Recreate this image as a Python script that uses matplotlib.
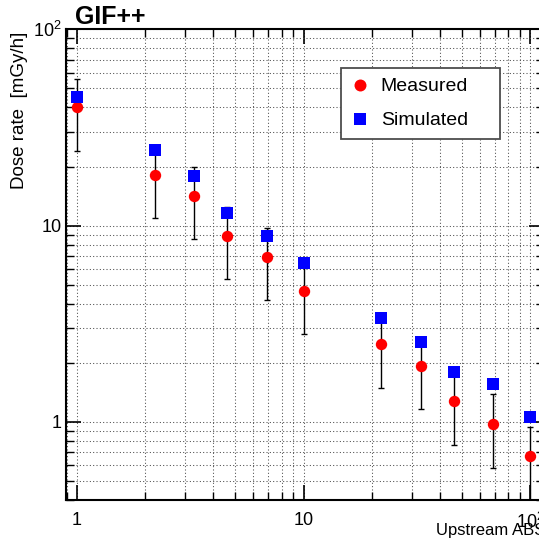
import matplotlib
matplotlib.use("Agg")
import matplotlib.pyplot as plt
from matplotlib.ticker import LogLocator, FuncFormatter, NullFormatter

plt.rcParams['font.family'] = ['Liberation Sans', 'DejaVu Sans']
plt.rcParams['mathtext.fontset'] = 'custom'
plt.rcParams['mathtext.rm'] = 'Liberation Sans'
plt.rcParams['mathtext.it'] = 'Liberation Sans:italic'
plt.rcParams['mathtext.bf'] = 'Liberation Sans:bold'

# Upstream ABS attenuation factors and dose rates [mGy/h]
abs_factor = [1, 2.2, 3.3, 4.6, 6.9, 10, 22, 33, 46, 69, 100]
measured = [40, 18.2, 14.2, 8.9, 6.95, 4.67, 2.48, 1.93, 1.28, 0.98, 0.67]
measured_err = [16, 7.3, 5.7, 3.55, 2.78, 1.87, 1.0, 0.77, 0.52, 0.40, 0.27]
simulated = [45, 24.2, 17.8, 11.6, 8.8, 6.48, 3.4, 2.54, 1.79, 1.56, 1.06]

W, H = 539, 542
fig = plt.figure(figsize=(W / 100, H / 100), dpi=100)

ax_l, ax_r, ax_t, ax_b = 66, 544, 29.3, 500
ax = fig.add_axes([ax_l / W, 1 - ax_b / H, (ax_r - ax_l) / W, (ax_b - ax_t) / H])
ax.set_xscale('log')
ax.set_yscale('log')
ax.set_xlim(0.894, 115.3)
ax.set_ylim(0.4, 100)

# dotted grid at every major and minor decade subdivision
ax.xaxis.set_major_locator(LogLocator(base=10, numticks=10))
ax.xaxis.set_minor_locator(LogLocator(base=10, subs=range(2, 10), numticks=20))
ax.yaxis.set_major_locator(LogLocator(base=10, numticks=10))
ax.yaxis.set_minor_locator(LogLocator(base=10, subs=range(2, 10), numticks=20))
for which in ('major', 'minor'):
    ax.grid(True, which=which, linestyle=(0, (1, 2.2)), linewidth=0.75, color='0.3')


def fmt(v, pos):
    if abs(v - 100) < 1e-6:
        return r'$10^{2}$'
    if abs(v - 10) < 1e-6:
        return '10'
    if abs(v - 1) < 1e-6:
        return '1'
    return ''


ax.xaxis.set_major_formatter(FuncFormatter(fmt))
ax.yaxis.set_major_formatter(FuncFormatter(fmt))
ax.xaxis.set_minor_formatter(NullFormatter())
ax.yaxis.set_minor_formatter(NullFormatter())

ax.tick_params(which='both', direction='in', top=True, right=True,
               labelsize=13, colors='black')
ax.tick_params(which='major', length=10.5, width=1.2)
ax.tick_params(which='minor', length=6, width=1.0)
ax.tick_params(axis='x', which='major', pad=8.5)
ax.tick_params(axis='y', which='major', pad=3)
for sp in ax.spines.values():
    sp.set_linewidth(1.5)
    sp.set_color('black')

ax.errorbar(abs_factor, measured, yerr=measured_err, fmt='none',
            ecolor='black', elinewidth=1.0, capsize=2, capthick=1.0, zorder=3)
ax.plot(abs_factor, measured, linestyle='none', marker='o', markersize=8.2,
        markerfacecolor='#ff0000', markeredgewidth=0, label='Measured', zorder=4)
ax.plot(abs_factor, simulated, linestyle='none', marker='s', markersize=8.6,
        markerfacecolor='#0000ff', markeredgewidth=0, label='Simulated', zorder=5)

leg_x0, leg_x1, leg_y0 = 341, 500, 68
leg = ax.legend(loc='upper left',
                bbox_to_anchor=(leg_x0 / W, 1 - leg_y0 / H, (leg_x1 - leg_x0) / W, 0.0),
                bbox_transform=fig.transFigure, mode='expand',
                fontsize=14, frameon=True, fancybox=False, borderpad=0.5,
                labelspacing=0.85, handlelength=1.0, handletextpad=0.55,
                borderaxespad=0.0, markerscale=1.05, numpoints=1)
leg.get_frame().set_edgecolor('0.3')
leg.get_frame().set_linewidth(1.3)
leg.get_frame().set_facecolor('white')
leg.get_frame().set_alpha(1.0)
leg.set_zorder(10)

fig.text(75 / W, 1 - 24.5 / H, 'GIF++', fontsize=18, fontweight='bold',
         ha='left', va='baseline')
fig.text(20 / W, 1 - 32 / H, 'Dose rate  [mGy/h]', fontsize=13.5, rotation=90,
         ha='center', va='top')
fig.text(436 / W, 1 - 535 / H, 'Upstream ABS', fontsize=12,
         ha='left', va='baseline')

fig.savefig('out.png', dpi=100)
